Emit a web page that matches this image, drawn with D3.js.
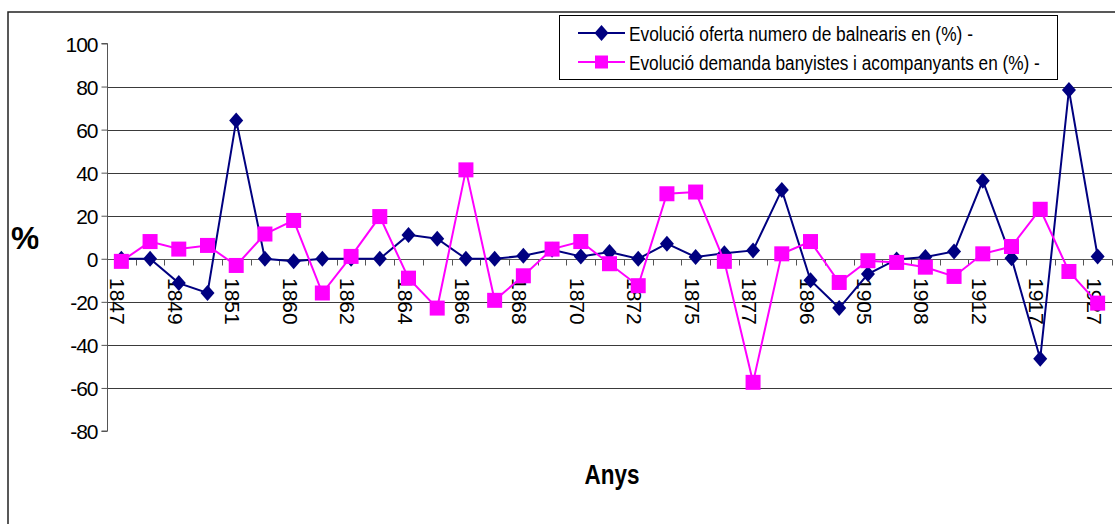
<!DOCTYPE html>
<html>
<head>
<meta charset="utf-8">
<script src="https://cdn.jsdelivr.net/npm/d3@7"></script>
<style>
  html, body { margin: 0; padding: 0; background: #fff; }
  svg { display: block; }
  text { font-family: "Liberation Sans", Arial, sans-serif; }
</style>
</head>
<body>
<svg id="chart" width="1115" height="524"></svg>
<script>
// ---- data ----
const categoryLabels = ["1847","","1849","","1851","","1860","","1862","","1864","","1866","","1868","","1870","","1872","","1875","","1877","","1896","","1905","","1908","","1912","","1917","","1927"];
const ofertaValues = [0, 0, -11.3, -15.9, 64.2, 0, -1.2, 0, 0, 0, 11.1, 9.3, 0, 0, 1.4, 4.2, 1.1, 3.1, 0, 7, 0.8, 2.6, 3.9, 32, -10, -22.9, -7.1, -0.3, 0.8, 3.4, 36.3, 0.3, -46.4, 78.4, 1.1];
const demandaValues = [-1.2, 8.0, 4.5, 6.2, -3.1, 11.5, 17.8, -15.9, 1.1, 19.6, -9.0, -22.9, 41.3, -19.3, -7.9, 4.5, 8.0, -2.3, -12.5, 30.2, 31.0, -1.2, -57.4, 2.3, 8.0, -11.0, -0.9, -1.7, -3.9, -8.2, 2.3, 5.7, 23.0, -5.9, -20.6];
const yTicks = [-80, -60, -40, -20, 0, 20, 40, 60, 80, 100];
const gridTicks = [-60, -40, -20, 20, 40, 60, 80];
const seriesNames = ["Evolució oferta numero de balnearis en (%) -", "Evolució demanda banyistes i acompanyants en (%) -"];
const axisTitleX = "Anys";
const axisTitleY = "%";

(function () {
// ---- layout ----
const svg = d3.select("#chart");
const pLeft = 107, pRight = 1112, pTop = 43.5, pBottom = 431;
const blue = "#000080", pink = "#FF00FF";

// chart border
svg.append("rect").attr("x", 8).attr("y", 12).attr("width", 1115).attr("height", 520)
  .attr("fill", "none").attr("stroke", "#222").attr("stroke-width", 1.5);

const idx = d3.range(categoryLabels.length);
const x = d3.scaleBand().domain(idx).range([pLeft, pRight]).padding(0);
const cx = i => x(i) + x.bandwidth() / 2;
const y = d3.scaleLinear().domain([-80, 100]).range([pBottom, pTop]);

// gridlines
svg.append("g").selectAll("line").data(gridTicks).join("line")
  .attr("x1", pLeft).attr("x2", pRight)
  .attr("y1", d => Math.round(y(d)) + 0.5).attr("y2", d => Math.round(y(d)) + 0.5)
  .attr("stroke", "#3a3a3a").attr("stroke-width", 1);

// y axis
const yAxis = svg.append("g").attr("transform", `translate(${pLeft + 0.5},0)`)
  .call(d3.axisLeft(y).tickValues(yTicks).tickSize(6).tickPadding(4).tickFormat(d => String(d)));
yAxis.select(".domain").attr("stroke", "#555").attr("d", `M-6,${y(100)}H0V${y(-80)}H-6`);
yAxis.selectAll(".tick line").attr("stroke", "#555");
yAxis.selectAll(".tick text").attr("font-size", 21).attr("letter-spacing", "-1px")
  .attr("fill", "#000").attr("x", -10).attr("dy", "0.36em");

// x axis at zero with ticks between categories
const zeroY = Math.round(y(0)) + 0.5;
const xAxisG = svg.append("g");
xAxisG.append("line").attr("x1", pLeft).attr("x2", pRight).attr("y1", zeroY).attr("y2", zeroY)
  .attr("stroke", "#555").attr("stroke-width", 1);
const boundaries = idx.map(i => x(i)).concat([pRight]);
xAxisG.selectAll("line.tk").data(boundaries).join("line").attr("class", "tk")
  .attr("x1", d => Math.round(d) + 0.5).attr("x2", d => Math.round(d) + 0.5)
  .attr("y1", zeroY).attr("y2", zeroY + 6).attr("stroke", "#555");
xAxisG.selectAll("text").data(idx.filter(i => categoryLabels[i] !== "")).join("text")
  .attr("transform", i => `translate(${cx(i) - 11},${278}) rotate(90)`)
  .attr("font-size", 21).attr("fill", "#000").text(i => categoryLabels[i]);

// series
const line = d3.line().x((d, i) => cx(i)).y(d => y(d));
svg.append("path").datum(ofertaValues).attr("d", line)
  .attr("fill", "none").attr("stroke", blue).attr("stroke-width", 2);
const diamond = "M0,-8L7,0L0,8L-7,0Z";
svg.append("g").selectAll("path").data(ofertaValues).join("path")
  .attr("d", diamond).attr("transform", (d, i) => `translate(${cx(i)},${y(d)})`).attr("fill", blue);

svg.append("path").datum(demandaValues).attr("d", line)
  .attr("fill", "none").attr("stroke", pink).attr("stroke-width", 2);
svg.append("g").selectAll("rect").data(demandaValues).join("rect")
  .attr("x", (d, i) => cx(i) - 7.5).attr("y", d => y(d) - 7.5)
  .attr("width", 15).attr("height", 15).attr("fill", pink);

// legend
const lg = svg.append("g");
lg.append("rect").attr("x", 559.5).attr("y", 15.5).attr("width", 498).attr("height", 64)
  .attr("fill", "#fff").attr("stroke", "#000").attr("stroke-width", 1);
const legRows = [
  {name: seriesNames[0], color: blue, sym: "d", yy: 33, len: 344},
  {name: seriesNames[1], color: pink, sym: "s", yy: 62, len: 411}
];
legRows.forEach(r => {
  lg.append("line").attr("x1", 578).attr("x2", 625).attr("y1", r.yy).attr("y2", r.yy)
    .attr("stroke", r.color).attr("stroke-width", 2);
  if (r.sym === "d") {
    lg.append("path").attr("d", diamond).attr("transform", `translate(601.5,${r.yy})`).attr("fill", r.color);
  } else {
    lg.append("rect").attr("x", 595).attr("y", r.yy - 6.5).attr("width", 13).attr("height", 13).attr("fill", r.color);
  }
  const t = lg.append("text").attr("x", 0).attr("y", 0).attr("font-size", 21)
    .attr("fill", "#000").text(r.name);
  const natural = t.node().getComputedTextLength();
  const sx = natural > 0 ? r.len / natural : 1;
  t.attr("transform", `translate(629,${r.yy + 7.5}) scale(${sx},1)`);
});

// axis titles
const ax = svg.append("text").attr("x", 0).attr("y", 0).attr("text-anchor", "middle")
  .attr("font-size", 28).attr("font-weight", "bold").attr("fill", "#000").text(axisTitleX);
const axW = ax.node().getComputedTextLength();
ax.attr("transform", `translate(612,484) scale(${axW > 0 ? 55 / axW : 1},1)`);

svg.append("clipPath").attr("id", "pctclip").append("rect")
  .attr("x", 0).attr("y", 200).attr("width", 38.5).attr("height", 80);
svg.append("text").attr("x", 11).attr("y", 249).attr("font-size", 32).attr("font-weight", "bold")
  .attr("clip-path", "url(#pctclip)").attr("fill", "#000").text(axisTitleY);
})();
</script>
</body>
</html>
